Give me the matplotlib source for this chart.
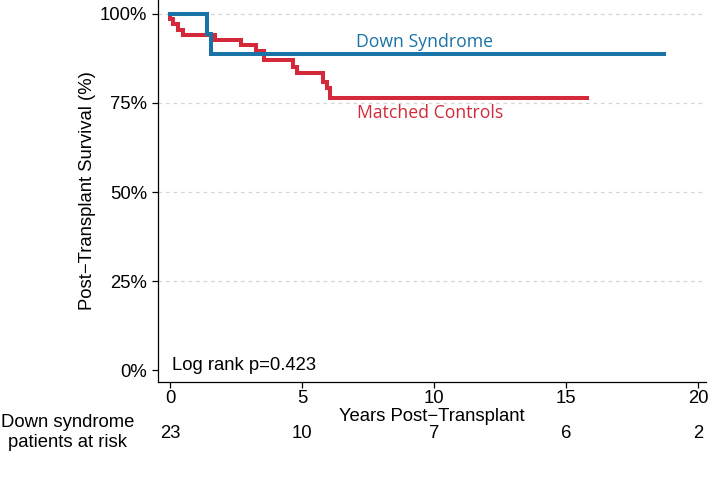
import matplotlib
matplotlib.use("Agg")
import matplotlib.pyplot as plt
import matplotlib.transforms as mtransforms

plt.rcParams['font.family'] = ['Liberation Sans', 'DejaVu Sans']

# Kaplan-Meier steps (years, % surviving)
ds_years = [0, 1.4, 1.55, 18.7]
ds_surv = [100, 94.4, 88.9, 88.9]

mc_years = [0, 0.02, 0.1, 0.3, 0.5, 1.72, 2.7, 3.25, 3.55, 4.67, 4.8, 5.8, 5.93, 6.05, 15.8]
mc_surv = [100, 98.5, 97.1, 95.6, 94.2, 92.7, 91.3, 89.6, 87.1, 85.2, 83.3, 81.0, 79.1, 76.3, 76.3]

# numbers at risk
risk_years = [0, 5, 10, 15, 20]
risk_counts = [23, 10, 7, 6, 2]

blue = '#1a73a6'
red = '#d3293a'
fs = 13.3

fig = plt.figure(figsize=(7.09, 4.88), dpi=100)
ax = fig.add_axes([0.2228, 0.2172, 0.773, 0.7828])

ax.step(mc_years, mc_surv, where='post', color=red, lw=2.9, solid_joinstyle='miter')
ax.step(ds_years, ds_surv, where='post', color=blue, lw=2.9, solid_joinstyle='miter')

ax.set_xlim(-0.4545, 20.30)
ax.set_ylim(-3.37, 103.93)
ax.set_xticks([0, 5, 10, 15, 20])
ax.set_yticks([0, 25, 50, 75, 100])
ax.set_yticklabels(['0%', '25%', '50%', '75%', '100%'])

# dashed horizontal grid
for y in [25, 50, 75, 100]:
    ax.axhline(y, color='#d6d6d6', lw=0.9, ls=(0, (3, 3)), zorder=0)

for s in ['top', 'right']:
    ax.spines[s].set_visible(False)
for s in ['left', 'bottom']:
    ax.spines[s].set_linewidth(0.9)

ax.tick_params(axis='both', direction='out', length=4.3, width=0.9, labelsize=fs)
ax.tick_params(axis='x', pad=1.5)
ax.tick_params(axis='y', pad=3.5)

ax.set_xlabel('Years Post\u2212Transplant', fontsize=fs, labelpad=0.5)
ax.set_ylabel('Post\u2212Transplant Survival (%)', fontsize=fs, labelpad=3)

ax.text(7.05, 92.1, 'Down Syndrome', color=blue, fontsize=12.7, va='center', family=['Open Sans', 'DejaVu Sans'])
ax.text(7.08, 72.2, 'Matched Controls', color=red, fontsize=12.7, va='center', family=['Open Sans', 'DejaVu Sans'])
ax.text(0.08, 1.4, 'Log rank p=0.423', fontsize=fs, va='center')

# at-risk table under the axis
trans = mtransforms.blended_transform_factory(ax.transData, ax.transAxes)
for yr, n in zip(risk_years, risk_counts):
    ax.text(yr, -0.136, str(n), transform=trans, ha='center', va='center', fontsize=fs, clip_on=False)

fig.text(68 / 709, 1 - 432.5 / 488, 'Down syndrome\npatients at risk', ha='center', va='center',
         multialignment='center', fontsize=fs, linespacing=1.25)

fig.savefig('out.png', dpi=100)
